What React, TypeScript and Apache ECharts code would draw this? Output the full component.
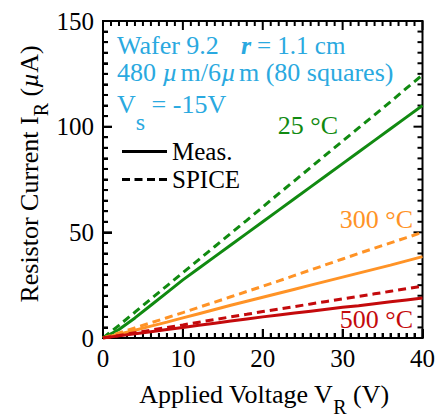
import React, { useEffect, useRef } from "react";
import * as echarts from "echarts";

const voltage = [0, 2, 4, 6, 8, 10, 12, 14, 16, 18, 20, 22, 24, 26, 28, 30, 32, 34, 36, 38, 40];
const meas25 = [0, 4, 9.5, 15.5, 21.5, 27.5, 33, 38.5, 44, 49.5, 55, 60.5, 66, 71.5, 77, 82.5, 88, 93.5, 99, 104.5, 110];
const spice25 = [0, 6, 12.2, 18.5, 24.7, 30.9, 37.1, 43.3, 49.5, 55.7, 62, 68.3, 74.5, 80.7, 87, 93.2, 99.4, 105.6, 111.8, 118.2, 124.5];
const meas300 = [0, 1.8, 3.7, 5.6, 7.5, 9.5, 11.5, 13.5, 15.5, 17.4, 19.3, 21.2, 23.1, 25, 26.9, 28.8, 30.7, 32.6, 34.5, 36.5, 38.5];
const spice300 = [0, 2.4, 4.8, 7.2, 9.6, 12, 14.5, 17, 19.5, 22, 24.5, 27, 29.6, 32.2, 34.8, 37.4, 40, 42.5, 45, 47.5, 50];
const meas500 = [0, 1, 2, 3, 4, 5, 6, 7, 8, 9, 10, 10.9, 11.8, 12.7, 13.6, 14.5, 15.3, 16.2, 17.1, 18, 18.9];
const spice500 = [0, 1.2, 2.5, 3.7, 5, 6.2, 7.5, 8.7, 10, 11.2, 12.5, 13.7, 14.9, 16.1, 17.3, 18.5, 19.7, 20.9, 22.1, 23.3, 24.5];

const xTicks = { min: 0, max: 40, interval: 10, minorStep: 1 };
const yTicks = { min: 0, max: 150, interval: 50, minorStep: 5 };
const legendNames = ["Meas.", "SPICE"];
const tempLabels = ["25 °C", "300 °C", "500 °C"];

const FONT = "'Liberation Serif', 'Times New Roman', serif";
const GREEN = "#118a11";
const ORANGE = "#ff9326";
const RED = "#c40a0c";
const BLUE = "#2aa9e0";

const pairs = (ys: number[]) => voltage.map((v, i) => [v, ys[i]]);

// mirrored inward ticks on all four sides: [x, y, side, length]
const buildTicks = () => {
  const out: number[][] = [];
  const isMajor = (v: number, t: any) => Math.abs(v / t.interval - Math.round(v / t.interval)) < 1e-6;
  for (let v = xTicks.min; v <= xTicks.max + 1e-9; v += xTicks.minorStep) {
    const len = isMajor(v, xTicks) ? 9 : 5;
    out.push([v, yTicks.min, 0, len]);
    out.push([v, yTicks.max, 1, len]);
  }
  for (let v = yTicks.min; v <= yTicks.max + 1e-9; v += yTicks.minorStep) {
    const len = isMajor(v, yTicks) ? 9 : 5;
    out.push([xTicks.min, v, 2, len]);
    out.push([xTicks.max, v, 3, len]);
  }
  return out;
};

export default function App() {
  const ref = useRef<HTMLDivElement>(null);
  useEffect(() => {
    document.body.style.margin = "0";
    const chart = echarts.init(ref.current!, null, { renderer: "svg" });
    const line = (name: string, data: number[], color: string, dashed: boolean) => ({
      type: "line",
      name,
      data: pairs(data),
      symbol: "none",
      showSymbol: false,
      lineStyle: { color, width: 3, type: dashed ? [8, 5] : "solid" },
      itemStyle: { color },
    });
    chart.setOption({
      animation: false,
      grid: { left: 103, right: 13, top: 21, bottom: 80, show: true, borderColor: "#000", borderWidth: 2, backgroundColor: "transparent" },
      legend: {
        data: [
          { name: legendNames[0], icon: "rect" },
          { name: legendNames[1], icon: "path://M0,0h8v3h-8z M12.5,0h8v3h-8z M25,0h8v3h-8z M37,0h8v3h-8z" },
        ],
        orient: "vertical",
        left: 117,
        top: 134,
        itemWidth: 45,
        itemHeight: 3,
        itemGap: 3,
        textStyle: { fontSize: 25, fontFamily: FONT, color: "#000" },
      },
      xAxis: {
        type: "value",
        min: xTicks.min,
        max: xTicks.max,
        interval: xTicks.interval,
        axisLine: { show: true, lineStyle: { color: "#000", width: 2 } },
        axisTick: { show: true, inside: true, length: 9, lineStyle: { color: "#000", width: 2 } },
        minorTick: { show: true, splitNumber: 10, length: 5, lineStyle: { color: "#000", width: 2 } },
        splitLine: { show: false },
        axisLabel: { fontSize: 25, fontFamily: FONT, color: "#000", margin: 8 },
      },
      yAxis: {
        type: "value",
        min: yTicks.min,
        max: yTicks.max,
        interval: yTicks.interval,
        axisLine: { show: true, lineStyle: { color: "#000", width: 2 } },
        axisTick: { show: true, inside: true, length: 9, lineStyle: { color: "#000", width: 2 } },
        minorTick: { show: true, splitNumber: 10, length: 5, lineStyle: { color: "#000", width: 2 } },
        splitLine: { show: false },
        axisLabel: { fontSize: 25, fontFamily: FONT, color: "#000", margin: 9 },
      },
      series: [
        line("SPICE 25", spice25, GREEN, true),
        line("Meas. 25", meas25, GREEN, false),
        line("SPICE 300", spice300, ORANGE, true),
        line("Meas. 300", meas300, ORANGE, false),
        line("SPICE 500", spice500, RED, true),
        line("Meas. 500", meas500, RED, false),
        { type: "line", name: legendNames[0], data: [], symbol: "none", lineStyle: { color: "#000", width: 3 }, itemStyle: { color: "#000" } },
        { type: "line", name: legendNames[1], data: [], symbol: "none", lineStyle: { color: "#000", width: 3, type: [8, 5] }, itemStyle: { color: "#000" } },
        {
          type: "custom",
          clip: false,
          data: buildTicks(),
          renderItem: (params: any, api: any) => {
            const p = api.coord([api.value(0), api.value(1)]);
            const side = api.value(2);
            const len = api.value(3);
            let shape;
            if (side === 0) shape = { x1: p[0], y1: p[1], x2: p[0], y2: p[1] - len };
            else if (side === 1) shape = { x1: p[0], y1: p[1], x2: p[0], y2: p[1] + len };
            else if (side === 2) shape = { x1: p[0], y1: p[1], x2: p[0] + len, y2: p[1] };
            else shape = { x1: p[0], y1: p[1], x2: p[0] - len, y2: p[1] };
            return { type: "line", shape, style: { stroke: "#000", lineWidth: 2 } };
          },
        },
      ],
      graphic: [
        {
          type: "text",
          x: 264,
          y: 394,
          style: {
            text: "Applied Voltage V{sub|R} (V)",
            font: `26px ${FONT}`,
            fill: "#000",
            align: "center",
            verticalAlign: "middle",
            rich: { sub: { fontSize: 20, fontFamily: FONT, fill: "#000", padding: [0, 0, -26, 0] } },
          },
        },
        {
          type: "text",
          x: 29,
          y: 174,
          rotation: Math.PI / 2,
          style: {
            text: "Resistor Current I{sub|R} ({mu|µ}A)",
            font: `26px ${FONT}`,
            fill: "#000",
            align: "center",
            verticalAlign: "middle",
            rich: {
              sub: { fontSize: 20, fontFamily: FONT, fill: "#000", padding: [0, 0, -24, 0] },
              mu: { fontSize: 26, fontFamily: FONT, fontStyle: "italic", fill: "#000" },
            },
          },
        },
        {
          type: "text",
          x: 117,
          y: 45,
          style: { text: "Wafer 9.2", font: `26px ${FONT}`, fill: BLUE, verticalAlign: "middle" },
        },
        {
          type: "text",
          x: 241,
          y: 45,
          style: { text: "r", font: `italic bold 26px ${FONT}`, fill: BLUE, verticalAlign: "middle" },
        },
        {
          type: "text",
          x: 257,
          y: 45,
          style: { text: "= 1.1 cm", font: `25px ${FONT}`, fill: BLUE, verticalAlign: "middle" },
        },
        {
          type: "text",
          x: 117,
          y: 72,
          style: {
            text: "480 {mu|µ}m/6{mu|µ}m (80 squares)",
            font: `26px ${FONT}`,
            fill: BLUE,
            verticalAlign: "middle",
            rich: { mu: { fontSize: 26, fontFamily: FONT, fontStyle: "italic", fill: BLUE, padding: [0, 3, 0, 0] } },
          },
        },
        {
          type: "text",
          x: 117,
          y: 104,
          style: {
            text: "V{sub|s} = -15V",
            font: `26px ${FONT}`,
            fill: BLUE,
            verticalAlign: "middle",
            rich: { sub: { fontSize: 24, fontFamily: FONT, fill: BLUE, padding: [0, 0, -36, 0] } },
          },
        },
        {
          type: "text",
          x: 338,
          y: 125,
          style: { text: tempLabels[0], font: `26px ${FONT}`, fill: GREEN, align: "right", verticalAlign: "middle" },
        },
        {
          type: "text",
          x: 413,
          y: 219,
          style: { text: tempLabels[1], font: `26px ${FONT}`, fill: ORANGE, align: "right", verticalAlign: "middle" },
        },
        {
          type: "text",
          x: 413,
          y: 319,
          style: { text: tempLabels[2], font: `26px ${FONT}`, fill: RED, align: "right", verticalAlign: "middle" },
        },
      ],
    });
    return () => chart.dispose();
  }, []);
  return <div ref={ref} style={{ width: 438, height: 418 }} />;
}
